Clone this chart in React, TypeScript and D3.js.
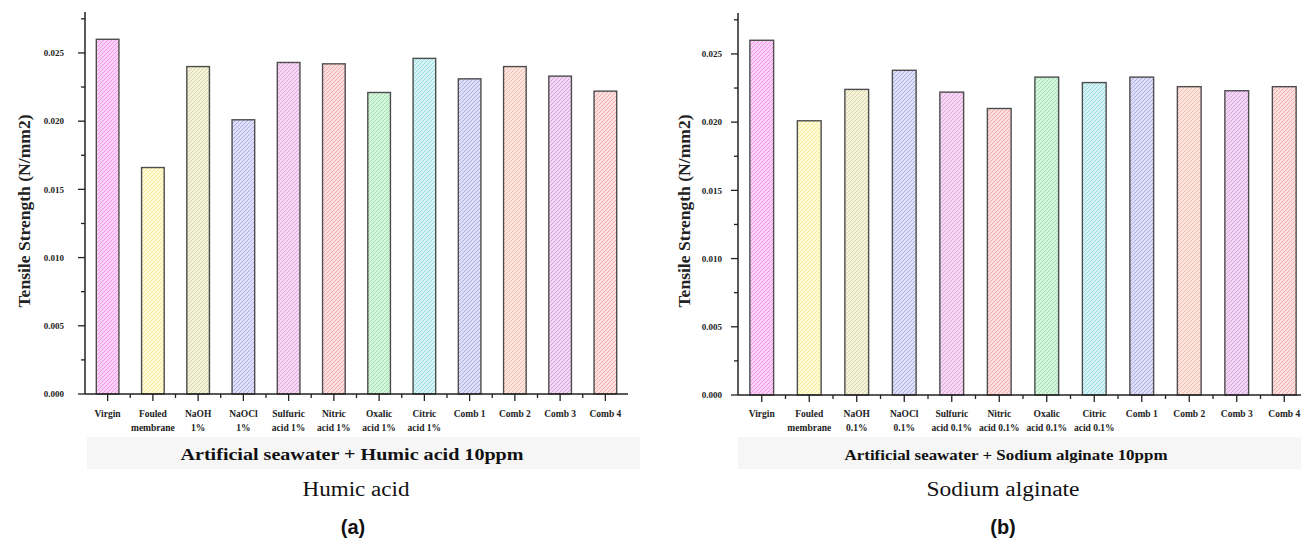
import React, { useEffect, useRef } from "react";
import * as d3 from "d3";

// bar categories, left panel (humic acid) and right panel (sodium alginate)
const categoriesA = [
  "Virgin", "Fouled\nmembrane", "NaOH\n1%", "NaOCl\n1%", "Sulfuric\nacid 1%", "Nitric\nacid 1%",
  "Oxalic\nacid 1%", "Citric\nacid 1%", "Comb 1", "Comb 2", "Comb 3", "Comb 4",
];
const categoriesB = [
  "Virgin", "Fouled\nmembrane", "NaOH\n0.1%", "NaOCl\n0.1%", "Sulfuric\nacid 0.1%", "Nitric\nacid 0.1%",
  "Oxalic\nacid 0.1%", "Citric\nacid 0.1%", "Comb 1", "Comb 2", "Comb 3", "Comb 4",
];

// tensile strength (N/mm2)
const valuesA = [0.026, 0.0166, 0.024, 0.0201, 0.0243, 0.0242, 0.0221, 0.0246, 0.0231, 0.024, 0.0233, 0.0222];
const valuesB = [0.026, 0.0201, 0.0224, 0.0238, 0.0222, 0.021, 0.0233, 0.0229, 0.0233, 0.0226, 0.0223, 0.0226];

const yTicks = ["0.000", "0.005", "0.010", "0.015", "0.020", "0.025"];

const fillColors = [
  "#fbd2f7", "#fffbd6", "#f5f3dc", "#e0e0f8", "#f7d8f3", "#fcdede",
  "#d8f5df", "#d6f4f6", "#dfdff7", "#fde6df", "#f2d8f5", "#fde0e0",
];
const hatchColors = [
  "#f090e8", "#f0e890", "#d6d2a0", "#a6a6e6", "#e6a0de", "#f0a6a6",
  "#94dca6", "#8cd8e2", "#a6a6e2", "#f2b4a4", "#d69edf", "#f2a6a6",
];

const panels = [
  {
    id: "a", categories: categoriesA, values: valuesA,
    x0: 85, x1: 628, y0: 394, yTop: 12, tickRight: 64, yLabelX: 24,
    title: "Artificial seawater + Humic acid 10ppm", titleX: 352, titleW: 343, titleSize: 16,
    band: [87, 640],
    caption: "Humic acid", captionX: 356, captionW: 107, letter: "(a)", letterX: 353,
  },
  {
    id: "b", categories: categoriesB, values: valuesB,
    x0: 738, x1: 1308, y0: 395, yTop: 13, tickRight: 722, yLabelX: 684,
    title: "Artificial seawater + Sodium alginate 10ppm", titleX: 1006, titleW: 323, titleSize: 15,
    band: [738, 1301],
    caption: "Sodium alginate", captionX: 1003, captionW: 153, letter: "(b)", letterX: 1003,
  },
];

const SERIF = "'Times New Roman', 'Liberation Serif', Tinos, Times, serif";

const App = () => {
  const ref = useRef<SVGSVGElement>(null);

  useEffect(() => {
    const svg = d3.select(ref.current);
    svg.selectAll("*").remove();

    // hatch patterns, one per colour
    const defs = svg.append("defs");
    fillColors.forEach((c, i) => {
      const p = defs
        .append("pattern")
        .attr("id", `hatch${i}`)
        .attr("patternUnits", "userSpaceOnUse")
        .attr("width", 4)
        .attr("height", 4);
      p.append("rect").attr("width", 4).attr("height", 4).attr("fill", c);
      p.append("path")
        .attr("d", "M-1,1 l2,-2 M0,4 l4,-4 M3,5 l2,-2")
        .attr("stroke", hatchColors[i])
        .attr("stroke-width", 0.9);
    });

    panels.forEach((cfg) => {
      const g = svg.append("g");
      const n = cfg.categories.length;

      const x = d3
        .scaleBand<number>()
        .domain(d3.range(n))
        .range([cfg.x0, cfg.x1])
        .paddingInner(0.5)
        .paddingOuter(0.25);
      const step = x.step();
      const y = d3.scaleLinear().domain([0, 0.028]).range([cfg.y0, cfg.yTop]);

      // faint band behind the axis title
      g.append("rect")
        .attr("x", cfg.band[0])
        .attr("y", 437)
        .attr("width", cfg.band[1] - cfg.band[0])
        .attr("height", 32)
        .attr("fill", "#f6f6f6");

      // bars
      g.selectAll("rect.bar")
        .data(cfg.values)
        .enter()
        .append("rect")
        .attr("class", "bar")
        .attr("x", (d, i) => x(i))
        .attr("y", (d) => y(d))
        .attr("width", x.bandwidth())
        .attr("height", (d) => y(0) - y(d))
        .attr("fill", (d, i) => `url(#hatch${i})`)
        .attr("stroke", "#4d4d4d")
        .attr("stroke-width", 1.4);

      // y axis
      g.append("line")
        .attr("x1", cfg.x0).attr("x2", cfg.x0)
        .attr("y1", y(0)).attr("y2", y(0.028))
        .attr("stroke", "#222").attr("stroke-width", 1.5);
      d3.range(12).forEach((i) => {
        const v = i * 0.0025;
        const major = i % 2 === 0;
        g.append("line")
          .attr("x1", cfg.x0 - (major ? 7 : 4)).attr("x2", cfg.x0)
          .attr("y1", y(v)).attr("y2", y(v))
          .attr("stroke", "#222").attr("stroke-width", 1.3);
      });
      g.selectAll("text.ytick")
        .data(yTicks)
        .enter()
        .append("text")
        .attr("x", cfg.tickRight)
        .attr("y", (d) => y(+d))
        .attr("dy", "0.35em")
        .attr("text-anchor", "end")
        .attr("font-family", SERIF)
        .attr("font-weight", "bold")
        .attr("font-size", 9)
        .attr("fill", "#222")
        .text((d) => d);

      g.append("text")
        .attr("transform", `translate(${cfg.yLabelX},211) rotate(-90)`)
        .attr("dy", "0.35em")
        .attr("text-anchor", "middle")
        .attr("font-family", SERIF)
        .attr("font-weight", "bold")
        .attr("font-size", 16)
        .attr("textLength", 193)
        .attr("lengthAdjust", "spacingAndGlyphs")
        .attr("fill", "#222")
        .text("Tensile Strength (N/mm2)");

      // x axis
      g.append("line")
        .attr("x1", cfg.x0).attr("x2", cfg.x1)
        .attr("y1", y(0)).attr("y2", y(0))
        .attr("stroke", "#222").attr("stroke-width", 1.5);
      d3.range(n).forEach((i) => {
        const cx = x(i)! + x.bandwidth() / 2;
        g.append("line")
          .attr("x1", cx).attr("x2", cx)
          .attr("y1", y(0)).attr("y2", y(0) + 7)
          .attr("stroke", "#222").attr("stroke-width", 1.3);
        if (i > 0) {
          const bx = cfg.x0 + i * step;
          g.append("line")
            .attr("x1", bx).attr("x2", bx)
            .attr("y1", y(0)).attr("y2", y(0) + 4)
            .attr("stroke", "#222").attr("stroke-width", 1.3);
        }
      });
      cfg.categories.forEach((c, i) => {
        const cx = x(i)! + x.bandwidth() / 2;
        const t = g
          .append("text")
          .attr("text-anchor", "middle")
          .attr("font-family", SERIF)
          .attr("font-weight", "bold")
          .attr("font-size", 9.5)
          .attr("fill", "#222");
        c.split("\n").forEach((line, k) => {
          t.append("tspan").attr("x", cx).attr("y", 417 + k * 13.5).text(line);
        });
      });

      // titles
      g.append("text")
        .attr("x", cfg.titleX)
        .attr("y", 460)
        .attr("text-anchor", "middle")
        .attr("font-family", SERIF)
        .attr("font-weight", "bold")
        .attr("font-size", cfg.titleSize)
        .attr("textLength", cfg.titleW)
        .attr("lengthAdjust", "spacingAndGlyphs")
        .attr("fill", "#111")
        .text(cfg.title);
      g.append("text")
        .attr("x", cfg.captionX)
        .attr("y", 496)
        .attr("text-anchor", "middle")
        .attr("font-family", SERIF)
        .attr("font-size", 20)
        .attr("textLength", cfg.captionW)
        .attr("lengthAdjust", "spacingAndGlyphs")
        .attr("fill", "#111")
        .text(cfg.caption);
      g.append("text")
        .attr("x", cfg.letterX)
        .attr("y", 534)
        .attr("text-anchor", "middle")
        .attr("font-family", "Arial, 'Liberation Sans', sans-serif")
        .attr("font-weight", 600)
        .attr("font-size", 20)
        .attr("fill", "#111")
        .text(cfg.letter);
    });
  }, []);

  return (
    <svg
      ref={ref}
      width={1301}
      height={542}
      style={{ position: "absolute", left: 0, top: 0, background: "#fff" }}
    />
  );
};

export default App;
